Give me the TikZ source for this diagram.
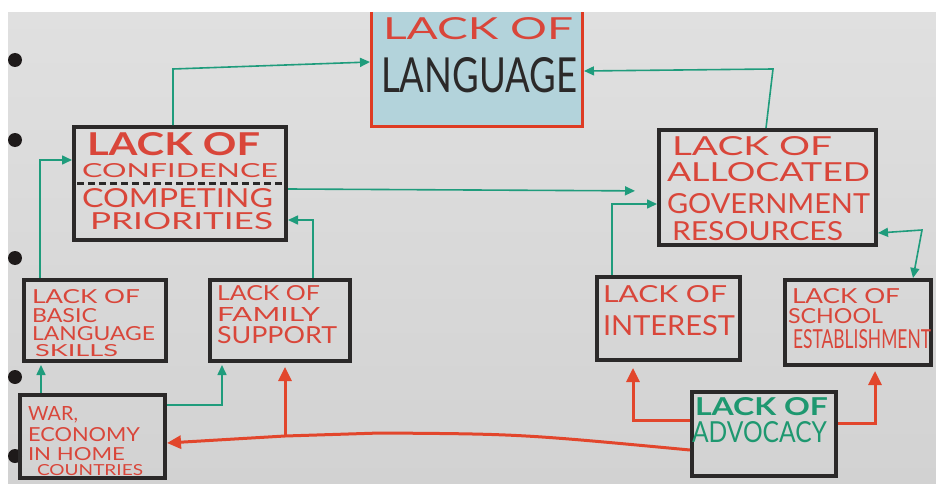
\documentclass[tikz,border=0pt]{standalone}
\usepackage{graphicx}
\usepackage{fontspec}
\setmainfont{Lato}
\usetikzlibrary{arrows.meta,fit}
\definecolor{papertop}{HTML}{E0E0E0}
\definecolor{paperbot}{HTML}{D2D2D2}
\definecolor{boxc}{HTML}{2B2929}
\definecolor{penred}{HTML}{D9463A}
\definecolor{arrred}{HTML}{E2462C}
\definecolor{pengreen}{HTML}{1F9C7C}
\definecolor{advgreen}{HTML}{1E9870}
\definecolor{langfill}{HTML}{B3D3DB}
\definecolor{langborder}{HTML}{DE3C24}
\definecolor{holec}{HTML}{1E1A1A}
\newcommand\tline[7]{\node[anchor=base west,inner sep=0pt,outer sep=0pt,text=#6] (#1) at (#2,#3) {\resizebox{#4pt}{#5pt}{#7}};}
\tikzset{
  box/.style={draw=boxc,line width=4pt,inner sep=0pt},
  garrow/.style={draw=pengreen,line width=1.6pt,-{Triangle[length=10pt,width=9pt]}},
  gboth/.style={draw=pengreen,line width=1.6pt,{Triangle[length=10pt,width=9pt]}-{Triangle[length=10pt,width=9pt]}},
  rarrow/.style={draw=arrred,line width=3pt,-{Triangle[length=14pt,width=13pt]}},
}
\begin{document}
\begin{tikzpicture}[x=1pt,y=-1pt]
\useasboundingbox (0,0) rectangle (936,484);
% paper
\fill[white] (0,0) rectangle (936,484);
\shade[top color=papertop,bottom color=paperbot] (8,12) rectangle (936,484);
\foreach \hy in {60,140,258,377,456} \fill[holec] (15,\hy) circle (7);
% language box
\node (lang) [draw=langborder,fill=langfill,line width=3pt,inner sep=0pt,fit={(371.5,4)(582.5,126.5)}] {};
\fill[white] (0,0) rectangle (936,12);
% boxes
\node (conf) [box,fit={(74,127)(286,240)}] {};
\node (gov) [box,fit={(659,130)(876,245)}] {};
\node (basic) [box,fit={(24,280)(166,361)}] {};
\node (family) [box,fit={(210,280)(350,361)}] {};
\node (interest) [box,fit={(597,277)(740,360)}] {};
\node (school) [box,fit={(785,280)(931,365)}] {};
\node (war) [box,fit={(20,395)(165,478)}] {};
\node (adv) [box,fit={(692,392)(836,476)}] {};
\draw[boxc,line width=3pt,dash pattern=on 7pt off 4pt] (conf.west |- 0,183) ++(5,0) coordinate (dashA) -- ([xshift=-5pt]conf.east |- 0,183) coordinate (dashB);
% texts
\tline{l1}{383}{40}{190}{22}{penred}{LACK OF}
\tline{l2}{381}{93}{196}{35}{boxc}{LANGUAGE}
\tline{c1}{87}{155}{173}{23}{penred}{\bfseries LACK OF}
\tline{c2}{82}{177}{196}{14}{penred}{CONFIDENCE}
\tline{c3}{82}{207}{191}{19}{penred}{COMPETING}
\tline{c4}{90}{229}{183}{17}{penred}{PRIORITIES}
\tline{g1}{672}{155}{160}{19}{penred}{LACK OF}
\tline{g2}{667}{181}{203}{19}{penred}{ALLOCATED}
\tline{g3}{667}{213}{203}{20}{penred}{GOVERNMENT}
\tline{g4}{672}{240}{171}{19}{penred}{RESOURCES}
\tline{b1}{32}{303}{108}{14}{penred}{LACK OF}
\tline{b2}{32}{322}{65}{14}{penred}{BASIC}
\tline{b3}{32}{340}{123}{14}{penred}{LANGUAGE}
\tline{b4}{35}{356}{83}{12}{penred}{SKILLS}
\tline{f1}{217}{300}{103}{15}{penred}{LACK OF}
\tline{f2}{217}{321}{103}{14}{penred}{FAMILY}
\tline{f3}{217}{343}{120}{17}{penred}{SUPPORT}
\tline{i1}{603}{302}{124}{17}{penred}{LACK OF}
\tline{i2}{603}{335}{132}{20}{penred}{INTEREST}
\tline{s1}{792}{303}{108}{15}{penred}{LACK OF}
\tline{s2}{788}{323}{95}{15}{penred}{SCHOOL}
\tline{s3}{793}{348}{138}{19}{penred}{ESTABLISHMENT}
\tline{w1}{28}{420}{50}{14}{penred}{WAR,}
\tline{w2}{28}{441}{112}{14}{penred}{ECONOMY}
\tline{w3}{28}{460}{97}{13}{penred}{IN HOME}
\tline{w4}{37}{475}{106}{11}{penred}{COUNTRIES}
\tline{a1}{695}{415}{133}{18}{advgreen}{\bfseries LACK OF}
\tline{a2}{692}{442}{135}{21}{advgreen}{ADVOCACY}
% green connectors
\draw[garrow] (conf.north -| 173,0) -- (173,69) -- (lang.west |- 0,62);
\draw[garrow] (gov.north -| 766,0) -- (773,69) -- (lang.east |- 0,71);
\draw[garrow,shorten >=22pt] (conf.east |- 0,189) -- (gov.west |- 0,191);
\draw[garrow] (interest.north -| 612,0) |- (gov.west |- 0,204);
\draw[gboth] (gov.east |- 0,233) -- (922,230) -- (school.north -| 913,0);
\draw[garrow] (basic.north -| 40,0) |- (conf.west |- 0,160);
\draw[garrow] (family.north -| 313,0) |- (conf.east |- 0,220);
\draw[garrow,shorten >=2pt] (war.north -| 41,0) -- (basic.south -| 41,0);
\draw[garrow,shorten >=2pt] (war.east |- 0,405) -| (family.south -| 222,0);
% red connectors
\coordinate (jn) at (285,436);
\draw[rarrow] (adv.west |- 0,450) .. controls (520,434) .. (380,433) -- (jn) -- (war.east |- 0,443);
\draw[rarrow,shorten >=4pt] (jn) -- (family.south -| 285,0);
\draw[rarrow,shorten >=6pt] (adv.west |- 0,420) -| (interest.south -| 633,0);
\draw[rarrow,shorten >=4pt] (adv.east |- 0,423) -| (school.south -| 875,0);
\end{tikzpicture}
\end{document}
